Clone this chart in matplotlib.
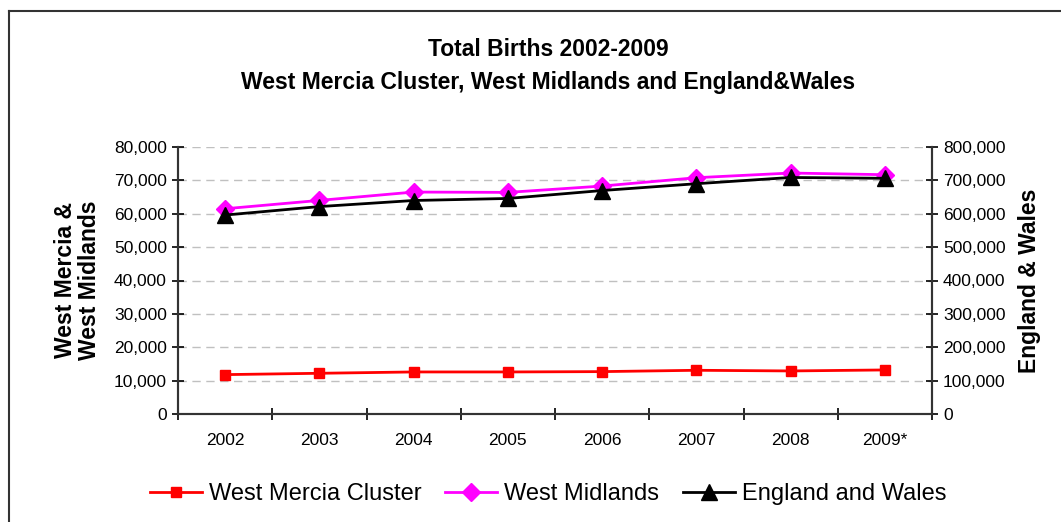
import matplotlib
matplotlib.use("Agg")
import matplotlib.pyplot as plt
from matplotlib.lines import Line2D
from matplotlib.ticker import FuncFormatter, FixedLocator

plt.rcParams['font.family'] = ['Liberation Sans', 'DejaVu Sans']

years = ["2002", "2003", "2004", "2005", "2006", "2007", "2008", "2009*"]
west_mercia = [11800, 12200, 12600, 12600, 12700, 13100, 12900, 13200]
west_midlands = [61500, 64000, 66500, 66400, 68300, 70800, 72200, 71700]
england_wales = [596100, 621500, 639700, 645800, 669600, 690000, 708700, 706200]

fig = plt.figure(figsize=(10.61, 5.22), dpi=100)
ax = fig.add_axes([178/1061, 1-414/522, (932-178)/1061, (414-147)/522])
ax2 = ax.twinx()

x = list(range(len(years)))
l1, = ax.plot(x, west_mercia, color='#FF0000', lw=2, marker='s', ms=7, label='West Mercia Cluster', zorder=3)
l2, = ax.plot(x, west_midlands, color='#FF00FF', lw=2, marker='D', ms=9, label='West Midlands', zorder=3)
l3, = ax2.plot(x, england_wales, color='black', lw=2, marker='^', ms=11, label='England and Wales', zorder=3)

ax.set_xlim(-0.5, len(years) - 0.5)
ax.set_ylim(0, 80000)
ax2.set_ylim(0, 800000)
ax.set_yticks(range(0, 80001, 10000))
ax2.set_yticks(range(0, 800001, 100000))
fmt = FuncFormatter(lambda v, p: f"{int(v):,}")
ax.yaxis.set_major_formatter(fmt)
ax2.yaxis.set_major_formatter(fmt)

ax.set_xticks(x)
ax.set_xticklabels(years)
ax.tick_params(axis='x', which='major', length=0, labelsize=12.5, pad=14)
ax.xaxis.set_minor_locator(FixedLocator([i - 0.5 for i in range(len(years) + 1)]))
ax.tick_params(axis='x', which='minor', length=8, direction='inout', width=1.2)
ax.tick_params(axis='y', direction='inout', length=8, width=1.2, labelsize=12.5, pad=4)
ax2.tick_params(axis='y', direction='inout', length=8, width=1.2, labelsize=12.5, pad=4)

ax.yaxis.grid(True, color='#C0C0C0', linestyle=(0, (6, 4)), lw=1)
for a in (ax, ax2):
    a.spines['top'].set_visible(False)
    for s in ('left', 'right', 'bottom'):
        a.spines[s].set_linewidth(1.5)
        a.spines[s].set_color('#333333')

ax.set_ylabel("West Mercia &\nWest Midlands", fontsize=16.5, fontweight='bold', labelpad=9, linespacing=1.05)
ax2.set_ylabel("England & Wales", fontsize=16.5, fontweight='bold', labelpad=9)

fig.text(548/1061, 1 - 50/522, "Total Births 2002-2009", ha='center', va='center', fontsize=16.5, fontweight='bold')
fig.text(548/1061, 1 - 83/522, "West Mercia Cluster, West Midlands and England&Wales", ha='center', va='center', fontsize=16.5, fontweight='bold')

fig.legend(handles=[l1, l2, l3], loc='center', bbox_to_anchor=(548/1061, 1 - 494/522), ncol=3,
           frameon=False, fontsize=17, handlelength=2.2, columnspacing=1.0, handletextpad=0.3)

fig.add_artist(Line2D([8.5/1061, 1.0], [1 - 10.5/522] * 2, color='#333333', lw=1.5))
fig.add_artist(Line2D([8.5/1061] * 2, [0, 1 - 10.5/522], color='#333333', lw=1.5))

fig.savefig("out.png", dpi=100, facecolor='white')
